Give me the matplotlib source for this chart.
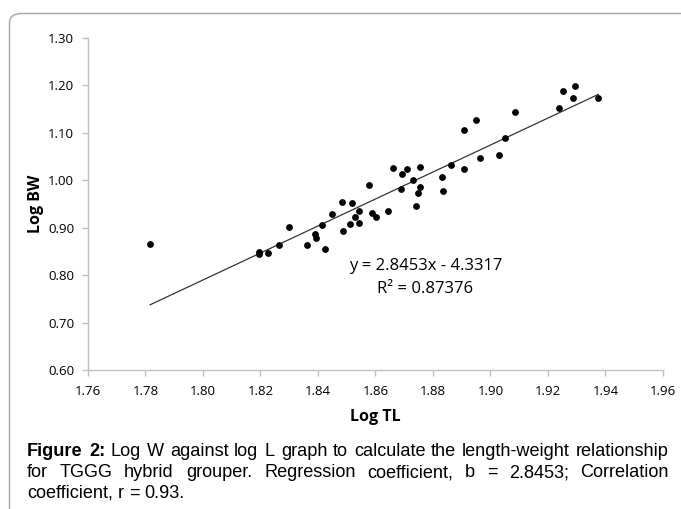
import matplotlib
matplotlib.use("Agg")
import matplotlib.pyplot as plt
from matplotlib.patches import FancyBboxPatch
from matplotlib.font_manager import FontProperties
from matplotlib.backends.backend_agg import get_hinting_flag

# 数据:log TL / log BW 散点
log_tl = [1.7816, 1.8195, 1.8195, 1.8227, 1.8266, 1.8299, 1.8361, 1.8389, 1.8393,
          1.8413, 1.8426, 1.8449, 1.8482, 1.8488, 1.8511, 1.8517, 1.8529, 1.8543,
          1.8543, 1.8579, 1.8588, 1.8602, 1.8644, 1.8660, 1.8689, 1.8691, 1.8709,
          1.8731, 1.8742, 1.8748, 1.8754, 1.8754, 1.8830, 1.8836, 1.8863, 1.8908,
          1.8908, 1.8948, 1.8962, 1.9028, 1.9050, 1.9085, 1.9240, 1.9251, 1.9286,
          1.9293, 1.9375]
log_bw = [0.866, 0.849, 0.844, 0.847, 0.863, 0.902, 0.863, 0.886, 0.879,
          0.906, 0.855, 0.928, 0.955, 0.893, 0.908, 0.953, 0.922, 0.936,
          0.910, 0.991, 0.932, 0.922, 0.936, 1.026, 0.981, 1.014, 1.024,
          1.001, 0.945, 0.973, 1.028, 0.985, 1.007, 0.977, 1.032, 1.105,
          1.024, 1.127, 1.048, 1.054, 1.089, 1.144, 1.152, 1.189, 1.174,
          1.198, 1.174]
slope, intercept = 2.8453, -4.3317
r2 = 0.87376
x_ticks = [1.76, 1.78, 1.80, 1.82, 1.84, 1.86, 1.88, 1.90, 1.92, 1.94, 1.96]
y_ticks = [0.60, 0.70, 0.80, 0.90, 1.00, 1.10, 1.20, 1.30]

W, H = 681, 509
fig = plt.figure(figsize=(W / 100, H / 100), dpi=100)

# 外框(圆角,右侧和底部被裁掉)
frame = FancyBboxPatch((9.5 / W, -0.1), 1.2, 1 - 13.5 / H + 0.1,
                       boxstyle="round,pad=0,rounding_size=0.018",
                       transform=fig.transFigure, fill=False,
                       edgecolor="#a6a6a6", linewidth=1.0)
fig.patches.append(frame)

ax = fig.add_axes([88 / W, 1 - 370 / H, (663 - 88) / W, (370 - 38) / H])
ax.scatter(log_tl, log_bw, s=24, color="black", zorder=3, linewidths=0)
x0, x1 = min(log_tl), max(log_tl)
ax.plot([x0, x1], [slope * x0 + intercept, slope * x1 + intercept],
        color="#333333", linewidth=0.9)

ax.set_xlim(1.76, 1.96)
ax.set_ylim(0.60, 1.30)
ax.set_xticks(x_ticks)
ax.set_yticks(y_ticks)
ax.set_xticklabels([f"{v:.2f}" for v in x_ticks], fontfamily="Open Sans", fontsize=9.5)
ax.set_yticklabels([f"{v:.2f}" for v in y_ticks], fontfamily="Open Sans", fontsize=9.5)
for s in ["top", "right"]:
    ax.spines[s].set_visible(False)
for s in ["left", "bottom"]:
    ax.spines[s].set_color("#bfbfbf")
    ax.spines[s].set_linewidth(1.0)
ax.tick_params(direction="out", length=4, color="#bfbfbf", width=1.0)
ax.tick_params(axis="x", pad=7)
ax.tick_params(axis="y", pad=6)
ax.set_xlabel("Log TL", fontfamily="Open Sans", fontweight="bold", fontsize=11.5, labelpad=8)
ax.set_ylabel("Log BW", fontfamily="Open Sans", fontweight="bold", fontsize=11.5, labelpad=3)

ax.text(1.8774, 0.819, f"y = {slope}x - {abs(intercept)}", ha="center", va="center",
        fontfamily="Open Sans", fontsize=12)
ax.text(1.8774, 0.7705, f"R² = {r2}", ha="center", va="center",
        fontfamily="Open Sans", fontsize=12)

# 图注:前两行两端对齐
lines = [
    ["Figure", "2:", "Log", "W", "against", "log", "L", "graph", "to", "calculate", "the",
     "length-weight", "relationship"],
    ["for", "TGGG", "hybrid", "grouper.", "Regression", "coefficient,", "b", "=", "2.8453;",
     "Correlation"],
    ["coefficient,", "r", "=", "0.93."],
]
baselines = [456, 477, 498]
left_px, right_px = 27, 669
FAM = "Liberation Sans"
renderer = fig.canvas.get_renderer()


def text_w(s, size, weight="normal"):
    t = fig.text(0, 0, s, fontfamily=FAM, fontsize=size, fontweight=weight)
    w = t.get_window_extent(renderer).width
    t.remove()
    return w


def row_shift(word, size, weight):
    # Agg 按字形包围盒取整贴图,不同单词的基线会差 1 像素,这里预先补偿
    font = renderer._prepare_font(FontProperties(family=FAM, size=size, weight=weight))
    font.set_text(word, 0, flags=get_hinting_flag())
    d = font.get_descent()
    _, h = font.get_width_height()
    ymin, ymax = -d, h - d
    return round(-ymin / 64) - ((ymax - ymin) // 64) + (ymax // 64)


def weight_of(i, j):
    return "bold" if (i == 0 and j < 2) else "normal"


def line_width(i, size):
    return (sum(text_w(w, size, weight_of(i, j)) for j, w in enumerate(lines[i]))
            + (text_w("a a", size) - text_w("aa", size)) * (len(lines[i]) - 1))


# 字号按第一行自然宽度占满版心来定
cap_size = 11.0
while line_width(0, cap_size + 0.1) < (right_px - left_px) * 0.995 and cap_size < 14:
    cap_size += 0.1
space = text_w("a a", cap_size) - text_w("aa", cap_size)

for i, (words, yb) in enumerate(zip(lines, baselines)):
    widths = [text_w(w, cap_size, weight_of(i, j)) for j, w in enumerate(words)]
    if i < 2:
        gap = (right_px - left_px - sum(widths)) / (len(words) - 1)
    else:
        gap = space
    x = left_px
    for j, (w, wd) in enumerate(zip(words, widths)):
        c = row_shift(w, cap_size, weight_of(i, j))
        fig.text(round(x) / W, (H - yb + c) / H, w, fontfamily=FAM, fontsize=cap_size,
                 fontweight=weight_of(i, j), va="baseline", ha="left")
        x += wd + gap

fig.savefig("out.png", dpi=100)
